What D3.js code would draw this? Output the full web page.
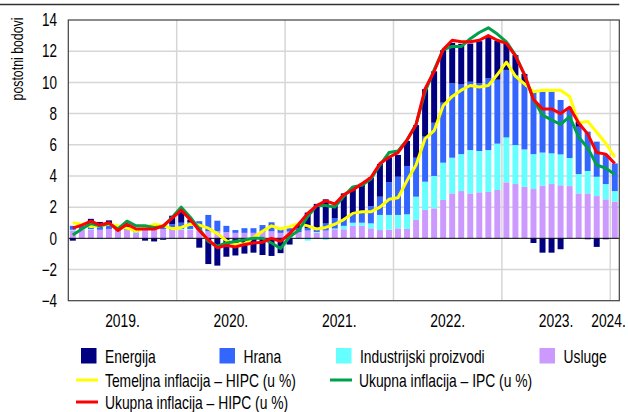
<!DOCTYPE html>
<html><head><meta charset="utf-8">
<script src="https://cdn.jsdelivr.net/npm/d3@7"></script>
<style>
body{margin:0;background:#fff;}
svg text{font-family:"Liberation Sans Narrow","Arial Narrow","Liberation Sans",Arial,sans-serif;fill:#000;}
</style></head><body><svg id="c" width="628" height="412"></svg>
<script>
// ---- data ----
const years = [2019, 2020, 2021, 2022, 2023, 2024];
const months = d3.range(61).map(i => { const y = 2019 + Math.floor(i / 12), m = i % 12 + 1; return y + "-" + String(m).padStart(2, "0"); });
const yTicks = [-4, -2, 0, 2, 4, 6, 8, 10, 12, 14];
const yearLabels = ["2019.", "2020.", "2021.", "2022.", "2023.", "2024."];

const usluge = [
 .5,.55,.55,.55,.6,.5,.55,.35,.55,.55,.6,.55,
 .55,.55,.5,.45,.45,.4,.35,.35,.35,.4,.45,.35,
 .43,.4,.5,.36,.5,.58,.58,.8,.8,.64,.53,.55,
 .64,.6,1.18,1.82,1.92,2.46,2.88,3.03,2.88,2.95,2.97,3.1,
 3.59,3.48,3.31,3.16,3.38,3.48,3.4,3.35,2.88,2.88,2.71,2.5,
 2.35];
const industrijski = [
 .05,.05,.05,-.05,0,-.05,0,.05,.05,.05,-.05,-.05,
 .05,.05,.05,0,0,0,-.05,0,0,0,0,-.05,
 0,-.05,-.15,.05,-.1,.05,.22,.2,.2,.32,.97,.95,
 .86,.94,1.49,1.81,2.08,2.39,2.29,2.37,2.78,2.65,2.69,2.97,
 2.88,2.5,2.39,2.24,2.12,1.97,1.98,1.8,1.24,1.44,1.24,.98,
 .68];
const hrana = [
 .25,.2,.2,.25,.2,.1,.15,.1,.15,.15,.3,.35,
 .4,.45,.55,1.05,.68,.4,.18,.3,.3,.45,.58,.25,
 .22,.25,.15,.25,.45,.67,.38,.5,.6,1.1,1.17,2.1,
 2.45,3.1,2.5,2.89,3.41,3.85,4.77,4.47,4.38,4.34,4.6,4.1,
 4.33,4.49,4.24,4.0,3.9,3.95,3.49,3.25,3.04,2.52,2.25,1.86,
 1.77];
const energija = [
 -.15,.1,.45,.25,.35,0,.1,0,-.15,-.2,-.05,.55,
 .8,.15,-.6,-1.65,-1.75,-1.18,-1.05,-.98,-.92,-1.07,-1.13,-.9,
 -.4,.3,1.0,1.55,1.55,.8,1.7,1.7,1.9,1.84,2.1,1.6,
 1.4,1.6,2.09,3.05,3.3,3.37,2.6,2.6,2.45,2.7,2.65,2.5,
 1.7,1.28,.6,-.3,-.92,-.92,-.7,0,.32,-.06,-.55,-.06,
 0];
const temeljnaHIPC = [
 1.0,.9,.75,.8,.9,.8,.65,.47,.68,.9,.8,.62,
 .7,.9,.85,.65,.3,-.15,-.4,-.35,.05,.45,.8,.6,
 .75,.95,.8,.6,.7,.9,1.2,1.6,1.7,1.7,2.0,2.5,
 2.6,3.7,4.7,6.4,6.9,8.5,9.1,9.5,9.8,9.7,9.8,10.5,
 11.3,10.4,9.9,9.4,9.5,9.5,9.5,9.1,7.4,7.5,6.8,6.1,
 5.2];
const ukupnaIPC = [
 .22,.6,.95,.8,.95,.6,1.1,.8,.8,.7,.75,1.35,
 2.0,1.35,.6,-.2,-.5,-.3,-.2,-.1,0,0,-.3,-.65,
 .1,.5,1.4,2.1,2.1,2.0,2.7,3.3,3.4,3.8,4.7,5.5,
 5.6,6.3,7.3,9.4,10.8,12.1,12.3,12.3,12.8,13.2,13.5,13.1,
 12.6,11.75,10.5,8.9,7.9,7.6,7.3,7.8,6.5,5.8,4.7,4.5,
 4.1];
const ukupnaHIPC = [
 .65,.85,1.1,.85,1.0,.5,.9,.6,.6,.6,.8,1.3,
 1.8,1.2,.5,-.1,-.6,-.45,-.55,-.4,-.3,-.25,0,-.2,
 .3,.9,1.6,2.1,2.4,2.2,2.8,3.1,3.5,3.9,4.8,5.2,
 5.5,6.3,7.3,9.6,10.7,12.1,12.7,12.6,12.6,12.7,13.0,12.7,
 12.5,11.7,10.5,8.9,8.3,8.3,8.0,8.4,7.4,6.7,5.5,5.4,
 4.8];

const barKeys = ["usluge", "industrijski", "hrana", "energija"];
const barColors = {usluge: "#cc99ff", industrijski: "#66ffff", hrana: "#3366ff", energija: "#000080"};
const lineSeries = [
  {name: "Temeljna inflacija – HIPC (u %)", values: temeljnaHIPC, color: "#ffff00"},
  {name: "Ukupna inflacija – IPC (u %)", values: ukupnaIPC, color: "#00a04a"},
  {name: "Ukupna inflacija – HIPC (u %)", values: ukupnaHIPC, color: "#ff0000"}
];

const table = months.map((m, i) => ({month: m, usluge: usluge[i], industrijski: industrijski[i], hrana: hrana[i], energija: energija[i]}));

// ---- layout ----
const svg = d3.select("#c");
const L = 68.3, R = 619.3, T = 20, B = 300.7;
const NARROW = 0.77;
const x = d3.scaleBand().domain(months).range([L, R]).paddingInner(0.34).paddingOuter(0.17);
const y = d3.scaleLinear().domain([-4, 14]).range([B, T]);
const step = x.step();
const edge = m => x(m) - (step - x.bandwidth()) / 2;
const center = m => x(m) + x.bandwidth() / 2;

// condensed text helper
function ntext(parent, tx, ty, str, size, anchor, rot) {
  return parent.append("text")
    .attr("transform", `translate(${tx},${ty})` + (rot ? ` rotate(${rot})` : "") + ` scale(${NARROW},1)`)
    .attr("text-anchor", anchor || "start").attr("font-size", size).text(str);
}

// top rule
svg.append("line").attr("x1", 0).attr("x2", R).attr("y1", 4.5).attr("y2", 4.5)
  .attr("stroke", "#333").attr("stroke-width", 1.5);

// grid
svg.append("g").selectAll("line").data(yTicks.filter(t => t !== 0 && t !== -4 && t !== 14)).join("line")
  .attr("x1", L).attr("x2", R).attr("y1", d => y(d)).attr("y2", d => y(d))
  .attr("stroke", "#d6d6d6").attr("stroke-width", 1.5);
svg.append("g").selectAll("line").data(years.slice(1)).join("line")
  .attr("x1", d => edge(d + "-01")).attr("x2", d => edge(d + "-01"))
  .attr("y1", T).attr("y2", B).attr("stroke", "#d6d6d6").attr("stroke-width", 1.5);

// bars
const stack = d3.stack().keys(barKeys).offset(d3.stackOffsetDiverging);
const stacked = stack(table);
svg.append("g").selectAll("g").data(stacked).join("g").attr("fill", d => barColors[d.key])
  .selectAll("rect").data(d => d).join("rect")
  .attr("x", d => x(d.data.month)).attr("width", x.bandwidth())
  .attr("y", d => y(Math.max(d[0], d[1]))).attr("height", d => Math.abs(y(d[0]) - y(d[1])));

// zero line
svg.append("line").attr("x1", L).attr("x2", R).attr("y1", y(0)).attr("y2", y(0))
  .attr("stroke", "#000").attr("stroke-width", 1);

// lines
const lineGen = d3.line().x((d, i) => center(months[i])).y(d => y(d));
svg.append("g").selectAll("path").data(lineSeries).join("path")
  .attr("d", d => lineGen(d.values)).attr("fill", "none")
  .attr("stroke", d => d.color).attr("stroke-width", 3).attr("stroke-linejoin", "round");

// frame
svg.append("rect").attr("x", L).attr("y", T).attr("width", R - L).attr("height", B - T)
  .attr("fill", "none").attr("stroke", "#404040").attr("stroke-width", 1.2);

// y axis labels
const yg = svg.append("g");
yTicks.forEach(t => ntext(yg, 57, y(t) + 6.2, t < 0 ? "\u2212" + Math.abs(t) : String(t), 17.5, "end"));
ntext(svg, 23, 59, "postotni bodovi", 16, "middle", -90);

// x labels
const xg = svg.append("g");
years.forEach((yr, i) => {
  const ms = months.filter(m => m.startsWith(yr));
  const c = (edge(ms[0]) + edge(ms[ms.length - 1]) + step) / 2;
  ntext(xg, Math.min(c, 608.5), 327, yearLabels[i], 18, "middle");
});

// legend
const leg = svg.append("g");
const boxItems = [
  {key: "energija", label: "Energija", x: 81},
  {key: "hrana", label: "Hrana", x: 219.5},
  {key: "industrijski", label: "Industrijski proizvodi", x: 336},
  {key: "usluge", label: "Usluge", x: 539.5}
];
boxItems.forEach(it => {
  leg.append("rect").attr("x", it.x).attr("y", 348).attr("width", 15.5).attr("height", 15.5).attr("fill", barColors[it.key]);
  ntext(leg, it.x + 24, 363, it.label, 18);
});
const lineItems = [
  {s: lineSeries[0], x: 76, y: 380},
  {s: lineSeries[1], x: 330, y: 380},
  {s: lineSeries[2], x: 76, y: 402}
];
lineItems.forEach(it => {
  leg.append("line").attr("x1", it.x).attr("x2", it.x + 22).attr("y1", it.y).attr("y2", it.y)
    .attr("stroke", it.s.color).attr("stroke-width", 3);
  ntext(leg, it.x + 29, it.y + 6.5, it.s.name, 18);
});
</script></body></html>
